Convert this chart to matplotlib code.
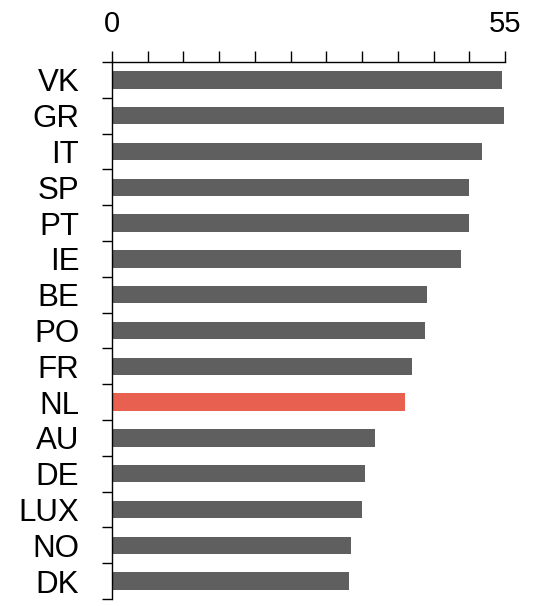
import matplotlib
matplotlib.use("Agg")
import matplotlib.pyplot as plt
from matplotlib.ticker import FixedLocator, FixedFormatter
import numpy as np

categories = ["VK", "GR", "IT", "SP", "PT", "IE", "BE", "PO", "FR", "NL", "AU", "DE", "LUX", "NO", "DK"]
values = [54.6, 54.9, 51.8, 50.0, 50.0, 48.9, 44.1, 43.8, 42.0, 41.0, 36.8, 35.4, 35.0, 33.4, 33.2]
highlight = "NL"
x_ticks = list(range(0, 56, 5))
x_tick_labels = ["0"] + [""] * 10 + ["55"]

plt.rcParams['font.family'] = ['Liberation Sans', 'DejaVu Sans']

fig = plt.figure(figsize=(5.39, 6.06), dpi=100)
ax = fig.add_axes([112/539, 1 - 599/606, (505-112)/539, (599-62)/606])

n = len(categories)
ypos = np.arange(n)
colors = ["#e8604f" if c == highlight else "#5f5f5f" for c in categories]
ax.barh(ypos, values, height=0.49, color=colors, edgecolor='none')

ax.set_xlim(0, 55)
ax.set_ylim(n - 0.5, -0.5)

for s in ["right", "bottom"]:
    ax.spines[s].set_visible(False)
for s in ["top", "left"]:
    ax.spines[s].set_linewidth(1.0)
    ax.spines[s].set_color("black")

ax.xaxis.set_ticks_position("top")
ax.xaxis.set_major_locator(FixedLocator(x_ticks))
ax.xaxis.set_major_formatter(FixedFormatter(x_tick_labels))
ax.tick_params(axis='x', which='major', direction='out', length=8, width=1.0,
               labelsize=21, pad=9.5, colors='black')

ax.set_yticks(ypos)
ax.set_yticklabels(categories)
ax.set_yticks(np.arange(n + 1) - 0.5, minor=True)
ax.tick_params(axis='y', which='major', length=0, labelsize=22.5, pad=23.5)
ax.tick_params(axis='y', which='minor', direction='out', length=7.5, width=1.0)

fig.savefig("out.png", dpi=100)
